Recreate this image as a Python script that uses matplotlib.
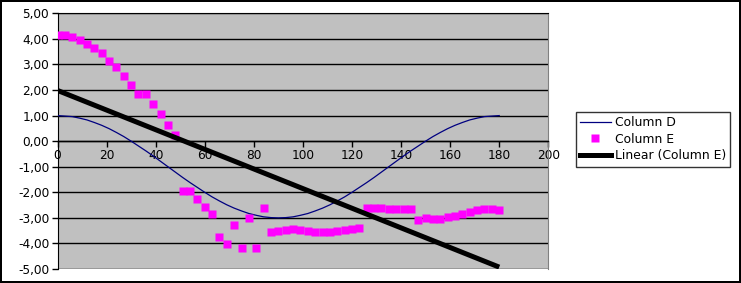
import matplotlib
import numpy as np

matplotlib.use("Agg")
import matplotlib.pyplot as plt  # noqa: E402
from matplotlib.lines import Line2D  # noqa: E402
from matplotlib.ticker import FuncFormatter, MultipleLocator  # noqa: E402

X = list(range(0, 181, 3))
COL_D = [1.00, 0.98, 0.96, 0.90, 0.83, 0.73, 0.62, 0.49, 0.34, 0.18,
         0.00, -0.19, -0.38, -0.58, -0.79, -1.00, -1.21, -1.42, -1.62, -1.81,
         -2.00, -2.18, -2.34, -2.49, -2.62, -2.73, -2.83, -2.90, -2.96, -2.99,
         -3.00, -2.99, -2.96, -2.90, -2.83, -2.73, -2.62, -2.49, -2.34, -2.18,
         -2.00, -1.81, -1.62, -1.42, -1.21, -1.00, -0.79, -0.58, -0.38, -0.19,
         0.00, 0.18, 0.34, 0.49, 0.62, 0.73, 0.83, 0.90, 0.96, 0.98, 1.00]
COL_E = [4.14, 4.14, 4.09, 3.96, 3.80, 3.63, 3.46, 3.15, 2.89, 2.55,
         2.20, 1.83, 1.83, 1.45, 1.05, 0.63, 0.26, -1.95, -1.95, -2.27,
         -2.59, -2.83, -3.73, -4.01, -3.28, -4.19, -3.02, -4.19, -2.63, -3.56,
         -3.53, -3.49, -3.45, -3.47, -3.50, -3.54, -3.56, -3.55, -3.50, -3.46,
         -3.42, -3.38, -2.60, -2.60, -2.61, -2.64, -2.65, -2.65, -2.65, -3.10,
         -2.99, -3.03, -3.03, -2.95, -2.94, -2.86, -2.77, -2.69, -2.65, -2.65,
         -2.70]
LABELS = ["Column D", "Column E", "Linear (Column E)"]

W, H = 741, 283
fig = plt.figure(figsize=(W / 100, H / 100), dpi=100)
fig.patch.set_edgecolor("black")
fig.patch.set_linewidth(1.5)
ax = fig.add_axes([57.5 / W, 1 - 269 / H, (548.3 - 57.5) / W, (269 - 13.3) / H])
ax.set_facecolor("#c0c0c0")

ax.plot(X, COL_D, color="#000080", lw=0.9, zorder=3)
ax.plot(X, COL_E, ls="none", marker="s", ms=5.2, color="#ff00ff", mec="none", zorder=4)
k, b = np.polyfit(X, COL_E, 1)
xs = np.array([X[0], X[-1]])
ax.plot(xs, k * xs + b, color="black", lw=3.6, solid_capstyle="butt", zorder=5)

ax.set_xlim(0, 200)
ax.set_ylim(-5, 5)
ax.xaxis.set_major_locator(MultipleLocator(20))
ax.yaxis.set_major_locator(MultipleLocator(1))
ax.yaxis.set_major_formatter(FuncFormatter(lambda v, p: f"{v:.2f}".replace(".", ",")))
ax.grid(axis="y", color="black", lw=1)
ax.set_axisbelow(True)
ax.spines["bottom"].set_position(("data", 0))
ax.spines["bottom"].set_linewidth(1)
ax.spines["left"].set_color("black")
ax.spines["top"].set_color("black")
ax.spines["right"].set_color("#808080")
ax.tick_params(axis="both", direction="out", length=4, width=1, labelsize=8.7, pad=2)

handles = [Line2D([], [], color="#000080", lw=0.9),
           Line2D([], [], ls="none", marker="s", ms=5.2, color="#ff00ff", mec="none"),
           Line2D([], [], color="black", lw=3.6)]
leg = fig.legend(handles, LABELS, loc="upper left", bbox_to_anchor=(575.7 / W, 1 - 111.7 / H),
                 fontsize=8.9, frameon=True, fancybox=False, borderaxespad=0, handlelength=2.5,
                 handletextpad=0.3, labelspacing=0.3, borderpad=0.35)
leg.get_frame().set_edgecolor("black")
leg.get_frame().set_linewidth(1)

fig.savefig("out.png", dpi=100, edgecolor=fig.get_edgecolor())
